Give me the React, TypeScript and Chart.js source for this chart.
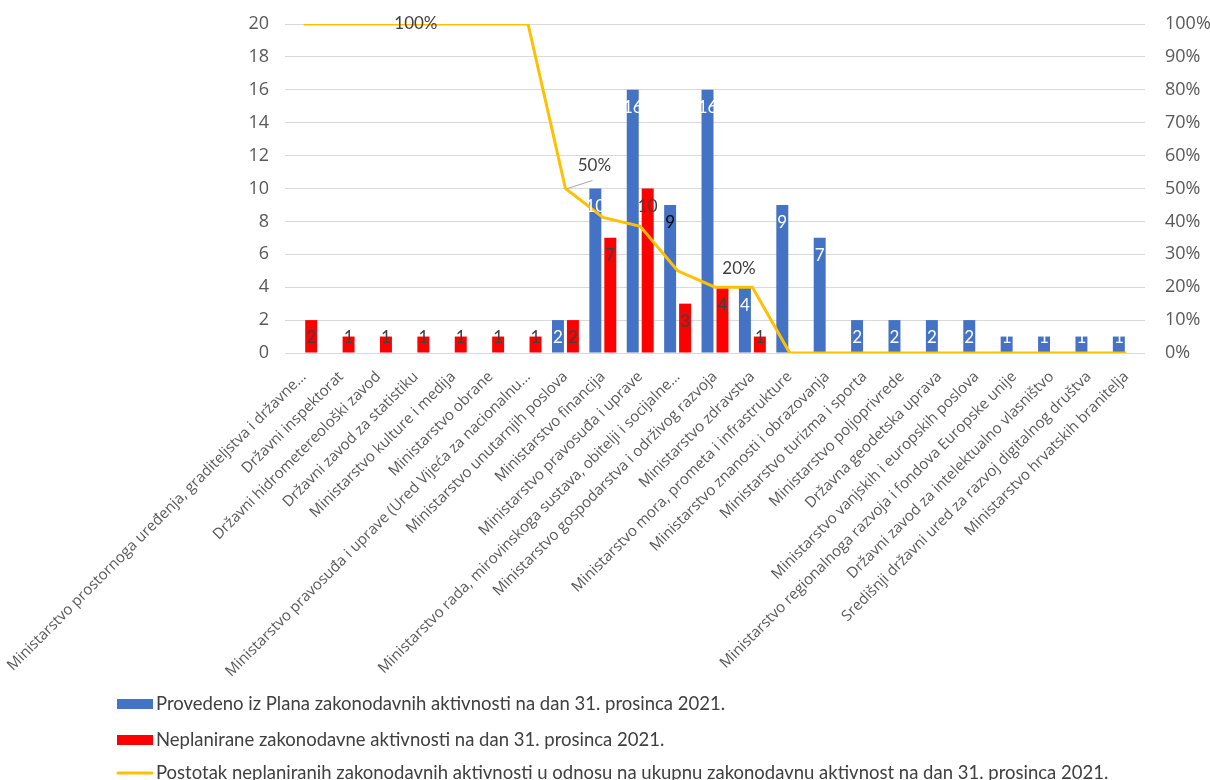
import React, { useEffect, useRef } from 'react';
import { Chart, registerables } from 'chart.js';

Chart.register(...registerables);

const categories: string[] = [
  'Ministarstvo prostornoga uređenja, graditeljstva i državne…',
  'Državni inspektorat',
  'Državni hidrometereološki zavod',
  'Državni zavod za statistiku',
  'Ministarstvo kulture i medija',
  'Ministarstvo obrane',
  'Ministarstvo pravosuđa i uprave (Ured Vijeća za nacionalnu…',
  'Ministarstvo unutarnjih poslova',
  'Ministarstvo financija',
  'Ministarstvo pravosuđa i uprave',
  'Ministarstvo rada, mirovinskoga sustava, obitelji i socijalne…',
  'Ministarstvo gospodarstva i održivog razvoja',
  'Ministarstvo zdravstva',
  'Ministarstvo mora, prometa i infrastrukture',
  'Ministarstvo znanosti i obrazovanja',
  'Ministarstvo turizma i sporta',
  'Ministarstvo poljoprivrede',
  'Državna geodetska uprava',
  'Ministarstvo vanjskih i europskih poslova',
  'Ministarstvo regionalnoga razvoja i fondova Europske unije',
  'Državni zavod za intelektualno vlasništvo',
  'Središnji državni ured za razvoj digitalnog društva',
  'Ministarstvo hrvatskih branitelja',
];

const implemented: number[] = [0, 0, 0, 0, 0, 0, 0, 2, 10, 16, 9, 16, 4, 9, 7, 2, 2, 2, 2, 1, 1, 1, 1];
const unplanned: number[] = [2, 1, 1, 1, 1, 1, 1, 2, 7, 10, 3, 4, 1, 0, 0, 0, 0, 0, 0, 0, 0, 0, 0];
const unplannedShare: number[] = [100, 100, 100, 100, 100, 100, 100, 50, 41.2, 38.5, 25, 20, 20, 0, 0, 0, 0, 0, 0, 0, 0, 0, 0];

const seriesLabels: string[] = [
  'Provedeno iz Plana zakonodavnih aktivnosti na dan 31. prosinca 2021.',
  'Neplanirane zakonodavne aktivnosti na dan 31. prosinca 2021.',
  'Postotak neplaniranih zakonodavnih aktivnosti u odnosu na ukupnu zakonodavnu aktivnost na dan 31. prosinca 2021.',
];

const leftAxis = { min: 0, max: 20, step: 2 };
const rightAxis = { min: 0, max: 100, step: 10 };
const shareLabelIndices: number[] = [3, 7, 11];

const BLUE = '#4472C4';
const RED = '#FF0000';
const YELLOW = '#FFC000';
const GRID = '#D9D9D9';
const TEXT = '#595959';
const DARK = '#404040';
const AXIS_FONT = '"Open Sans", "DejaVu Sans", sans-serif';
const LABEL_FONT = 'Lato, "Noto Sans", sans-serif';

const barLabelsPlugin = {
  id: 'barLabels',
  afterDatasetsDraw(chart: any) {
    const ctx = chart.ctx;
    ctx.save();
    ctx.font = '17px ' + LABEL_FONT;
    ctx.textAlign = 'center';
    ctx.textBaseline = 'middle';
    [0, 1].forEach((di) => {
      const meta = chart.getDatasetMeta(di);
      const values = chart.data.datasets[di].data as number[];
      meta.data.forEach((el: any, i: number) => {
        const v = values[i];
        if (!v) return;
        const cy = Math.min(el.y + 18, el.base - 15);
        if (di === 0) ctx.fillStyle = i === 10 ? '#000000' : '#FFFFFF';
        else ctx.fillStyle = DARK;
        ctx.fillText(String(v), el.x, cy);
      });
    });
    const lineMeta = chart.getDatasetMeta(2);
    const lineVals = chart.data.datasets[2].data as number[];
    shareLabelIndices.forEach((i) => {
      const el: any = lineMeta.data[i];
      let dx = 0;
      let dy = 0;
      if (i === 7) {
        dx = 29;
        dy = -23;
        ctx.strokeStyle = '#A6A6A6';
        ctx.lineWidth = 1;
        ctx.beginPath();
        ctx.moveTo(el.x + 2, el.y);
        ctx.lineTo(el.x + dx - 2, el.y + dy + 15);
        ctx.stroke();
      } else if (i === 11) {
        dx = 24;
        dy = -19;
      }
      ctx.fillStyle = DARK;
      ctx.fillText(Math.round(lineVals[i]) + '%', el.x + dx, el.y + dy);
    });
    ctx.restore();
  },
};

const legendPlugin = {
  id: 'customLegend',
  afterDraw(chart: any) {
    const ctx = chart.ctx;
    const rows = [704, 740, 773];
    ctx.save();
    ctx.font = '18.5px ' + LABEL_FONT;
    ctx.textAlign = 'left';
    ctx.textBaseline = 'middle';
    chart.data.datasets.forEach((ds: any, i: number) => {
      const y = rows[i];
      if (ds.type === 'line') {
        ctx.strokeStyle = ds.borderColor;
        ctx.lineWidth = 3;
        ctx.lineCap = 'round';
        ctx.beginPath();
        ctx.moveTo(118, y);
        ctx.lineTo(152, y);
        ctx.stroke();
      } else {
        ctx.fillStyle = ds.backgroundColor;
        ctx.fillRect(117, y - 5, 36, 10);
      }
      ctx.fillStyle = DARK;
      ctx.fillText(ds.label, 156, y);
    });
    ctx.restore();
  },
};

export default function App() {
  const canvasRef = useRef<HTMLCanvasElement | null>(null);

  useEffect(() => {
    document.body.style.margin = '0';
    let chart: Chart | null = null;
    let cancelled = false;
    const build = () => {
      if (cancelled || !canvasRef.current) return;
      chart = new Chart(canvasRef.current, {
        type: 'bar',
        data: {
          labels: categories,
          datasets: [
            {
              type: 'bar',
              label: seriesLabels[0],
              data: implemented,
              backgroundColor: BLUE,
              yAxisID: 'y',
              order: 2,
              categoryPercentage: 0.8,
              barPercentage: 0.8,
            },
            {
              type: 'bar',
              label: seriesLabels[1],
              data: unplanned,
              backgroundColor: RED,
              yAxisID: 'y',
              order: 3,
              categoryPercentage: 0.8,
              barPercentage: 0.8,
            },
            {
              type: 'line',
              label: seriesLabels[2],
              data: unplannedShare,
              borderColor: YELLOW,
              backgroundColor: YELLOW,
              borderWidth: 3,
              pointRadius: 0,
              tension: 0,
              fill: false,
              yAxisID: 'y1',
              order: 1,
            } as any,
          ],
        },
        options: {
          animation: false,
          responsive: true,
          maintainAspectRatio: false,
          layout: { padding: { top: 24, left: 0, right: 0, bottom: 0 } },
          plugins: {
            legend: { display: false },
            tooltip: { enabled: false },
            title: { display: false },
          },
          scales: {
            x: {
              offset: true,
              grid: { display: false, drawTicks: false },
              border: { display: false },
              ticks: {
                autoSkip: false,
                minRotation: 45,
                maxRotation: 45,
                padding: 15,
                color: TEXT,
                font: { family: AXIS_FONT, size: 15 },
              },
              afterFit: (s: any) => {
                s.height = 427;
                s.paddingLeft = 0;
                s.paddingRight = 0;
              },
            },
            y: {
              position: 'left',
              min: leftAxis.min,
              max: leftAxis.max,
              grid: { color: GRID, lineWidth: 1, drawTicks: false },
              border: { display: false },
              ticks: {
                stepSize: leftAxis.step,
                padding: 16,
                color: TEXT,
                font: { family: AXIS_FONT, size: 18 },
              },
              afterFit: (s: any) => {
                s.width = 285;
                s.paddingTop = 0;
                s.paddingBottom = 0;
              },
            },
            y1: {
              position: 'right',
              min: rightAxis.min,
              max: rightAxis.max,
              grid: { display: false, drawTicks: false },
              border: { display: false },
              ticks: {
                stepSize: rightAxis.step,
                padding: 20,
                color: TEXT,
                font: { family: AXIS_FONT, size: 18 },
                callback: (v: any) => v + '%',
              },
              afterFit: (s: any) => {
                s.width = 65;
                s.paddingTop = 0;
                s.paddingBottom = 0;
              },
            },
          },
        } as any,
        plugins: [barLabelsPlugin, legendPlugin],
      });
    };
    const fonts = (document as any).fonts;
    if (fonts && fonts.load) {
      Promise.all([
        fonts.load('17px Lato'),
        fonts.load('15px "Open Sans"'),
        fonts.load('18px "Open Sans"'),
      ])
        .catch(() => undefined)
        .then(build);
    } else {
      build();
    }
    return () => {
      cancelled = true;
      if (chart) chart.destroy();
    };
  }, []);

  return (
    <div style={{ position: 'relative', width: '1210px', height: '780px' }}>
      <canvas ref={canvasRef} />
    </div>
  );
}
